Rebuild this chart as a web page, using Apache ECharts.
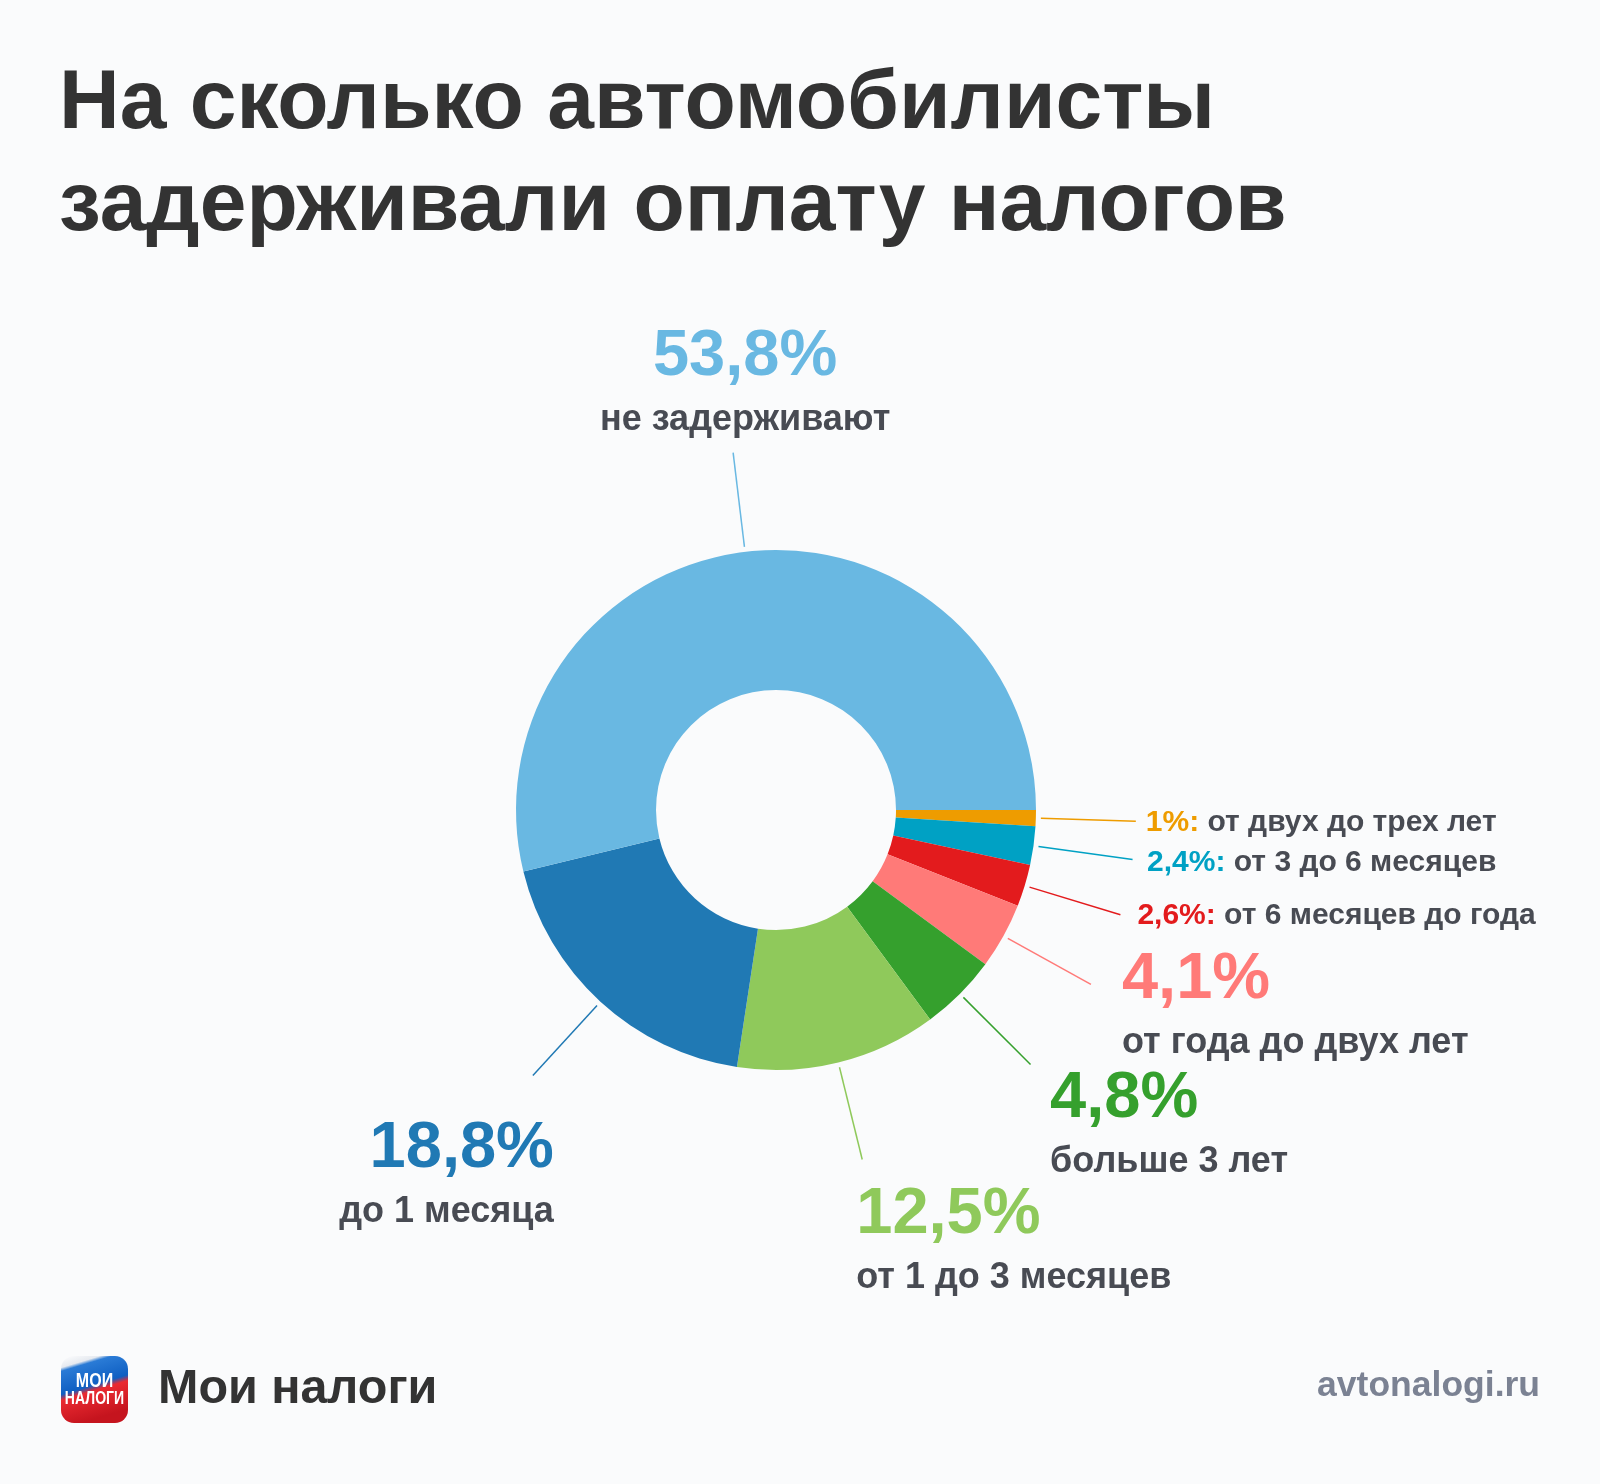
<!DOCTYPE html>
<html>
<head>
<meta charset="utf-8">
<script src="https://cdn.jsdelivr.net/npm/echarts@6/dist/echarts.min.js"></script>
<style>
  html, body { margin: 0; padding: 0; background: #fafbfc; }
  #chart { width: 1600px; height: 1484px; }
</style>
</head>
<body>
<div id="chart"></div>
<script>
// ---- DATA ----
const categories = [
  'от двух до трех лет',
  'от 3 до 6 месяцев',
  'от 6 месяцев до года',
  'от года до двух лет',
  'больше 3 лет',
  'от 1 до 3 месяцев',
  'до 1 месяца',
  'не задерживают'
];
const shares = [1, 2.4, 2.6, 4.1, 4.8, 12.5, 18.8, 53.8];
const titleLines = ['На сколько автомобилисты', 'задерживали оплату налогов'];
const brandName = 'Мои налоги';
const siteName = 'avtonalogi.ru';

// ---- STYLE / LAYOUT CONFIG ----
const palette = ['#ee9c00', '#00a1c4', '#e31b1d', '#ff7a78', '#35a02d', '#8fc95b', '#2079b4', '#69b8e2'];
const FONT = '"Liberation Sans", Arial, Helvetica, sans-serif';
const TEXT_DARK = '#484b53';
const LINE_GAP = 5;
// label kind and placement relative to the end of each leader line
const placement = [
  { kind: 'inline', align: 'left', va: 'middle', dx: 10, dy: 1 },
  { kind: 'inline', align: 'left', va: 'middle', dx: 14.5, dy: 3 },
  { kind: 'inline', align: 'left', va: 'middle', dx: 17, dy: 1 },
  { kind: 'block', align: 'left', va: 'top', dx: 31, dy: -42.5 },
  { kind: 'block', align: 'left', va: 'top', dx: 19.5, dy: -3.8 },
  { kind: 'block', align: 'left', va: 'top', dx: -6, dy: 18 },
  { kind: 'block', align: 'right', va: 'top', dx: 21, dy: 36 },
  { kind: 'block', align: 'center', va: 'top', dx: 12, dy: -133.5 }
];

function fmtPct(v) { return String(v).replace('.', ',') + '%'; }

const seriesData = shares.map(function (v, i) {
  const c = palette[i];
  const pl = placement[i];
  let label;
  if (pl.kind === 'inline') {
    label = {
      formatter: '{p|' + fmtPct(v) + ':}{d| ' + categories[i] + '}',
      rich: {
        p: { fontSize: 30, fontWeight: 'bold', color: c, fontFamily: FONT, lineHeight: 36 },
        d: { fontSize: 30, fontWeight: 'bold', color: TEXT_DARK, fontFamily: FONT, lineHeight: 36 }
      }
    };
  } else {
    label = {
      formatter: '{p|' + fmtPct(v) + '}\n{d|' + categories[i] + '}',
      align: pl.align,
      rich: {
        p: { fontSize: 65, fontWeight: 'bold', color: c, fontFamily: FONT, lineHeight: 76, align: pl.align },
        d: { fontSize: 36, fontWeight: 'bold', color: TEXT_DARK, fontFamily: FONT, lineHeight: 50, align: pl.align }
      }
    };
  }
  return {
    name: categories[i],
    value: v,
    itemStyle: { color: c },
    label: label,
    labelLine: { lineStyle: { color: c, width: 1.5 } }
  };
});

const chart = echarts.init(document.getElementById('chart'), null, { renderer: 'canvas' });

const option = {
  backgroundColor: '#fafbfc',
  animation: false,
  title: {
    text: titleLines.join('\n'),
    left: 59,
    top: 54,
    padding: 0,
    textStyle: { fontSize: 84, lineHeight: 102, fontWeight: 'bold', color: '#333333', fontFamily: FONT }
  },
  series: [{
    type: 'pie',
    center: [776, 810],
    radius: [120, 260],
    startAngle: 0,
    clockwise: true,
    avoidLabelOverlap: false,
    emphasis: { disabled: true },
    itemStyle: { borderWidth: 0 },
    label: { show: true, position: 'outside' },
    labelLine: { show: true, length: 100, length2: 0, smooth: false },
    labelLayout: function (params) {
      const pts = params.labelLinePoints;
      const pl = placement[params.dataIndex];
      if (!pts || pts.length < 2) { return {}; }
      const p1 = pts[0], p2 = pts[1];
      const vx = p2[0] - p1[0], vy = p2[1] - p1[1];
      const len = Math.sqrt(vx * vx + vy * vy) || 1;
      const start = [p1[0] + vx / len * LINE_GAP, p1[1] + vy / len * LINE_GAP];
      return {
        x: p2[0] + pl.dx,
        y: p2[1] + pl.dy,
        align: pl.align,
        verticalAlign: pl.va,
        labelLinePoints: [start, [p2[0], p2[1]]]
      };
    },
    data: seriesData
  }],
  graphic: [
    {
      type: 'group',
      children: [
        {
          type: 'rect',
          shape: { x: 61, y: 1356, width: 67, height: 67, r: 13 },
          style: {
            fill: new echarts.graphic.LinearGradient(0, 0, 0.3, 1, [
              { offset: 0, color: '#ffffff' },
              { offset: 0.16, color: '#e6eaf0' },
              { offset: 0.21, color: '#2a7bd6' },
              { offset: 0.53, color: '#0f5fc2' },
              { offset: 0.61, color: '#ea2a31' },
              { offset: 1, color: '#c5141e' }
            ])
          }
        },
        {
          type: 'text', x: 94.5, y: 1381, scaleX: 0.8,
          style: { text: 'МОИ', align: 'center', verticalAlign: 'middle', fontSize: 20, fontWeight: 'bold', fill: '#ffffff', fontFamily: FONT }
        },
        {
          type: 'text', x: 94.5, y: 1399, scaleX: 0.74,
          style: { text: 'НАЛОГИ', align: 'center', verticalAlign: 'middle', fontSize: 19, fontWeight: 'bold', fill: '#ffffff', fontFamily: FONT }
        }
      ]
    },
    {
      type: 'text', x: 158, y: 1390,
      style: { text: brandName, align: 'left', verticalAlign: 'middle', fontSize: 48.5, fontWeight: 'bold', fill: '#333333', fontFamily: FONT }
    },
    {
      type: 'text', x: 1540, y: 1386,
      style: { text: siteName, align: 'right', verticalAlign: 'middle', fontSize: 35.5, fontWeight: 'bold', fill: '#7b8293', fontFamily: FONT }
    }
  ]
};

chart.setOption(option);
</script>
</body>
</html>
